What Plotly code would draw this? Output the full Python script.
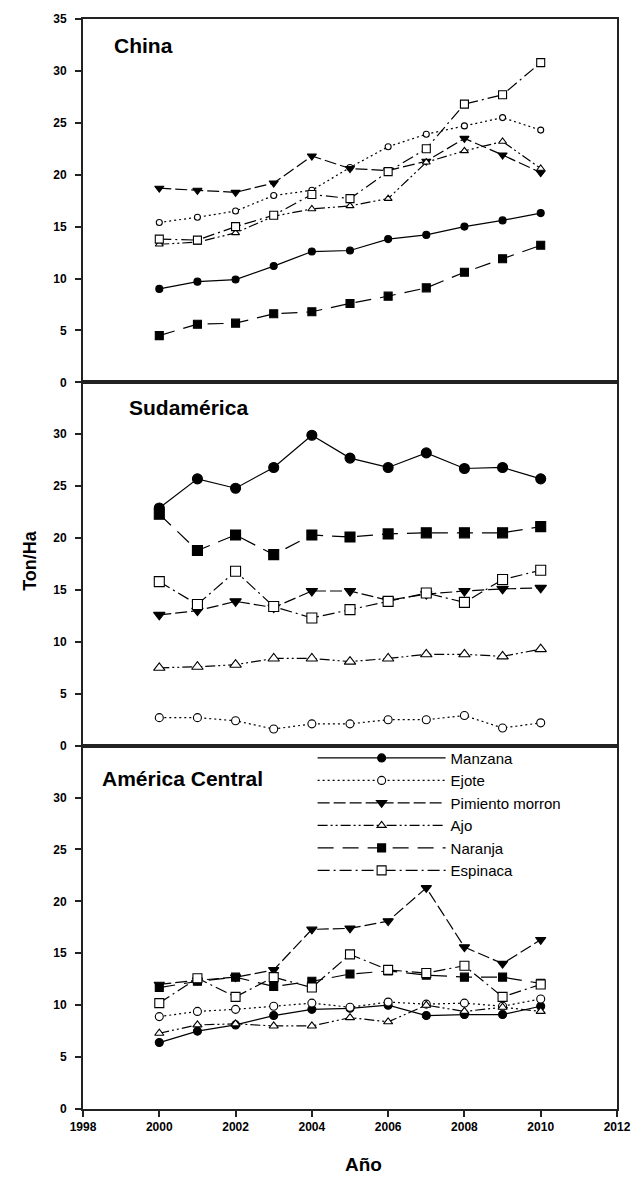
import plotly.graph_objects as go

YEARS = [2000, 2001, 2002, 2003, 2004, 2005, 2006, 2007, 2008, 2009, 2010]
SERIES = ["Manzana", "Ejote", "Pimiento morron", "Ajo", "Naranja", "Espinaca"]
PANELS = ["China", "Sudamérica", "América Central"]

# China
china_manzana = [9.0, 9.7, 9.9, 11.2, 12.6, 12.7, 13.8, 14.2, 15.0, 15.6, 16.3]
china_ejote = [15.4, 15.9, 16.5, 18.0, 18.5, 20.7, 22.7, 23.9, 24.7, 25.5, 24.3]
china_pimiento = [18.7, 18.5, 18.3, 19.2, 21.8, 20.6, 20.4, 21.3, 23.5, 21.9, 20.2]
china_ajo = [13.3, 13.5, 14.4, 16.0, 16.7, 17.0, 17.7, 21.2, 22.3, 23.2, 20.6]
china_naranja = [4.5, 5.6, 5.7, 6.6, 6.8, 7.6, 8.3, 9.1, 10.6, 11.9, 13.2]
china_espinaca = [13.8, 13.7, 15.0, 16.1, 18.1, 17.7, 20.3, 22.5, 26.8, 27.7, 30.8]

# Sudamérica
sud_manzana = [22.9, 25.7, 24.8, 26.8, 29.9, 27.7, 26.8, 28.2, 26.7, 26.8, 25.7]
sud_ejote = [2.7, 2.7, 2.4, 1.6, 2.1, 2.1, 2.5, 2.5, 2.9, 1.7, 2.2]
sud_pimiento = [12.6, 13.0, 13.9, 13.3, 14.9, 14.9, 14.0, 14.6, 14.9, 15.1, 15.2]
sud_ajo = [7.5, 7.6, 7.8, 8.4, 8.4, 8.1, 8.4, 8.8, 8.8, 8.6, 9.3]
sud_naranja = [22.3, 18.8, 20.3, 18.4, 20.3, 20.1, 20.4, 20.5, 20.5, 20.5, 21.1]
sud_espinaca = [15.8, 13.6, 16.8, 13.4, 12.3, 13.1, 13.9, 14.7, 13.8, 16.0, 16.9]

# América Central
ac_manzana = [6.4, 7.5, 8.1, 9.0, 9.6, 9.7, 10.0, 9.0, 9.1, 9.1, 9.9]
ac_ejote = [8.9, 9.4, 9.6, 9.9, 10.2, 9.8, 10.3, 10.1, 10.2, 9.9, 10.6]
ac_pimiento = [12.0, 12.4, 12.7, 13.4, 17.3, 17.4, 18.1, 21.3, 15.6, 14.0, 16.3]
ac_ajo = [7.3, 8.1, 8.2, 8.0, 8.0, 8.8, 8.4, 10.0, 9.4, 9.8, 9.4]
ac_naranja = [11.7, 12.3, 12.7, 11.8, 12.3, 13.0, 13.3, 12.9, 12.7, 12.7, 12.1]
ac_espinaca = [10.2, 12.6, 10.8, 12.7, 11.7, 14.9, 13.4, 13.1, 13.8, 10.8, 12.0]

XTICKS = [1998, 2000, 2002, 2004, 2006, 2008, 2010, 2012]
YTICKS_TOP = [0, 5, 10, 15, 20, 25, 30, 35]
YTICKS = [0, 5, 10, 15, 20, 25, 30]

DATA = [
    [china_manzana, china_ejote, china_pimiento, china_ajo, china_naranja, china_espinaca],
    [sud_manzana, sud_ejote, sud_pimiento, sud_ajo, sud_naranja, sud_espinaca],
    [ac_manzana, ac_ejote, ac_pimiento, ac_ajo, ac_naranja, ac_espinaca],
]

STYLE = {
    "Manzana": dict(dash="solid", symbol="circle", fill="black"),
    "Ejote": dict(dash="2px,3px", symbol="circle", fill="white"),
    "Pimiento morron": dict(dash="12px,4px", symbol="triangle-down", fill="black"),
    "Ajo": dict(dash="10px,3px,2px,3px,2px,3px", symbol="triangle-up", fill="white"),
    "Naranja": dict(dash="16px,9px", symbol="square", fill="black"),
    "Espinaca": dict(dash="12px,4px,2px,4px", symbol="square", fill="white"),
}
SIZES = [
    {"Manzana": 7, "Ejote": 6, "Pimiento morron": 8, "Ajo": 7, "Naranja": 8, "Espinaca": 8},
    {"Manzana": 10, "Ejote": 8, "Pimiento morron": 10, "Ajo": 10, "Naranja": 10, "Espinaca": 10},
    {"Manzana": 8, "Ejote": 8, "Pimiento morron": 9, "Ajo": 8, "Naranja": 8, "Espinaca": 9},
]

fig = go.Figure()
for p in range(3):
    ax = "" if p == 0 else str(p + 1)
    for name, vals in zip(SERIES, DATA[p]):
        st = STYLE[name]
        fig.add_trace(go.Scatter(
            x=YEARS, y=vals, name=name, mode="lines+markers",
            xaxis="x" + ax, yaxis="y" + ax,
            line=dict(color="black", width=1.2, dash=st["dash"]),
            marker=dict(symbol=st["symbol"], size=SIZES[p][name], color=st["fill"],
                        line=dict(color="black", width=1.1)),
            showlegend=(p == 2), legendgroup=name,
        ))

font = "Liberation Sans, Arial, sans-serif"
axis_common = dict(showline=True, linecolor="#222", linewidth=2, mirror=True,
                   showgrid=False, zeroline=False)
doms = [[2/3, 1.0], [1/3, 2/3], [0.0, 1/3]]
layout = dict(
    width=643, height=1181,
    margin=dict(l=83, r=24, t=14, b=72),
    paper_bgcolor="white", plot_bgcolor="white",
    font=dict(family=font, color="black"),
    showlegend=True,
    legend=dict(x=0.43, y=0.337, xanchor="left", yanchor="top",
                font=dict(size=15, family=font), itemwidth=128,
                bgcolor="rgba(0,0,0,0)", tracegroupgap=0, traceorder="normal"),
)
for p in range(3):
    ax = "" if p == 0 else str(p + 1)
    yref = "y" + ax
    xref = "x" + ax
    layout["xaxis" + ax] = dict(
        axis_common, range=[1998, 2012], anchor=yref, domain=[0, 1],
        tickvals=XTICKS, ticks="outside" if p == 2 else "", ticklen=6,
        tickwidth=1.5, tickcolor="#222", ticklabelstandoff=0,
        showticklabels=(p == 2), tickfont=dict(size=12, family=font, weight="bold"),
    )
    layout["yaxis" + ax] = dict(
        axis_common, range=[0, 35], anchor=xref, domain=doms[p],
        tickvals=YTICKS_TOP if p == 0 else YTICKS, ticks="outside", ticklen=6,
        tickwidth=1.5, tickcolor="#222", ticklabelstandoff=6,
        tickfont=dict(size=12, family=font, weight="bold"),
    )
fig.update_layout(**layout)

titles = [(PANELS[0], 0.054, 0.9755), (PANELS[1], 0.082, 0.6437), (PANELS[2], 0.032, 0.303)]
for t, x, y in titles:
    fig.add_annotation(text="<b>" + t + "</b>", x=x, y=y, xref="paper", yref="paper",
                       xanchor="left", yanchor="middle", showarrow=False,
                       font=dict(size=21, family=font))
fig.add_annotation(text="<b>Ton/Ha</b>", x=-0.099, y=0.503, xref="paper", yref="paper",
                   xanchor="center", yanchor="middle",
                   textangle=-90, showarrow=False, font=dict(size=18, family=font))
fig.add_annotation(text="<b>Año</b>", x=0.526, y=-0.0505, xref="paper", yref="paper",
                   xanchor="center", yanchor="middle",
                   showarrow=False, font=dict(size=19, family=font))

fig.write_html("out.html", post_script="document.body.style.margin='0';",
               config={"displayModeBar": False})
